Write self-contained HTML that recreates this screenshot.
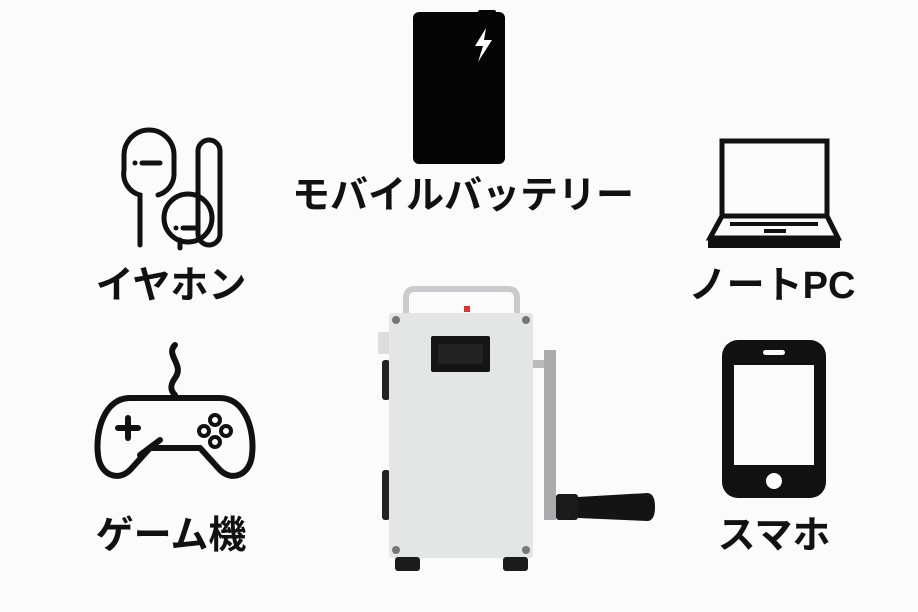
<!DOCTYPE html>
<html><head><meta charset="utf-8"><style>
html,body{margin:0;padding:0;background:#fbfbfb;}
svg{display:block}
text{font-family:"Liberation Sans","Noto Sans CJK JP",sans-serif;font-weight:bold;fill:#111;}
</style></head><body>
<svg width="918" height="612" viewBox="0 0 918 612" xmlns="http://www.w3.org/2000/svg">
<rect width="918" height="612" fill="#fbfbfb"/>
<!-- battery -->
<rect x="413" y="12" width="92" height="152" rx="6" fill="#050505"/>
<rect x="478" y="10" width="18" height="6" rx="2" fill="#050505"/>
<path d="M486 28 L475 46 L483 46 L478 62 L492 40 L484 40 Z" fill="#fff"/>
<text x="463" y="208" font-size="38" text-anchor="middle">モバイルバッテリー</text>
<!-- earphones -->
<g fill="none" stroke="#111" stroke-width="5" stroke-linecap="round">
<path d="M140 245 V195 A22 22 0 0 1 124 170 V155 A25 25 0 0 1 174 155 V175 A22 22 0 0 1 158 195"/>
<rect x="198" y="140" width="22" height="105" rx="11"/>
<circle cx="188" cy="218" r="24"/>
<path d="M180 240 V248"/>
<line x1="142" y1="163" x2="160" y2="163"/>
<line x1="183" y1="228" x2="198" y2="228"/>
</g>
<circle cx="135" cy="163" r="2.5" fill="#111"/><circle cx="176" cy="228" r="2.5" fill="#111"/>
<text x="171" y="298" font-size="38" text-anchor="middle">イヤホン</text>
<!-- laptop -->
<g fill="none" stroke="#111" stroke-width="5">
<rect x="722" y="141" width="105" height="75"/>
<path d="M722 216 L710 238 H838 L827 216"/>
</g>
<rect x="708" y="236" width="132" height="12" fill="#111"/>
<g fill="#111"><rect x="730" y="222" width="88" height="4"/><rect x="764" y="229" width="22" height="4"/></g>
<text x="772" y="298" font-size="38" text-anchor="middle">ノートPC</text>
<!-- game controller -->
<g fill="none" stroke="#111" stroke-width="6" stroke-linecap="round">
<path d="M175 345 C165 355 185 365 175 378 C170 385 170 390 175 395"/>
<path d="M130 398 H220 C245 398 255 430 252 455 C250 475 232 482 220 470 L200 448 H150 L130 470 C118 482 100 475 98 455 C95 430 105 398 130 398 Z"/>
<line x1="118" y1="428" x2="138" y2="428"/><line x1="128" y1="418" x2="128" y2="438"/>
<path d="M140 455 L160 440"/>
</g>
<g fill="none" stroke="#111" stroke-width="4">
<circle cx="215" cy="420" r="5"/><circle cx="215" cy="442" r="5"/><circle cx="204" cy="431" r="5"/><circle cx="226" cy="431" r="5"/>
</g>
<text x="171" y="548" font-size="38" text-anchor="middle">ゲーム機</text>
<!-- phone -->
<rect x="722" y="340" width="104" height="158" rx="16" fill="#111"/>
<rect x="734" y="365" width="80" height="100" fill="#fbfbfb"/>
<rect x="763" y="350" width="22" height="5" rx="2.5" fill="#fbfbfb"/>
<circle cx="774" cy="481" r="8" fill="#fbfbfb"/>
<text x="774" y="548" font-size="38" text-anchor="middle">スマホ</text>
<!-- device -->
<path d="M406 314 V298 Q406 289 415 289 H508 Q517 289 517 298 V314" fill="none" stroke="#c9cccd" stroke-width="6"/>
<rect x="464" y="306" width="6" height="6" fill="#d33"/>
<rect x="378" y="332" width="12" height="22" fill="#ddd"/>
<rect x="382" y="360" width="8" height="40" rx="3" fill="#222"/>
<rect x="382" y="470" width="8" height="50" rx="3" fill="#222"/>
<rect x="389" y="313" width="144" height="245" rx="3" fill="#e3e6e4"/>
<rect x="431" y="336" width="59" height="36" rx="2" fill="#151515"/>
<rect x="438" y="344" width="45" height="20" fill="#222"/>
<g fill="#777"><circle cx="396" cy="320" r="4"/><circle cx="526" cy="320" r="4"/><circle cx="396" cy="550" r="4"/><circle cx="526" cy="550" r="4"/></g>
<rect x="395" y="557" width="25" height="14" rx="3" fill="#1b1b1b"/>
<rect x="503" y="557" width="25" height="14" rx="3" fill="#1b1b1b"/>
<rect x="533" y="360" width="12" height="8" fill="#bbb"/>
<rect x="544" y="350" width="12" height="170" fill="#a9abad"/>
<rect x="556" y="494" width="22" height="26" rx="3" fill="#1a1a1a"/>
<path d="M578 497 L648 493 Q655 494 655 507 Q655 520 648 521 L578 518 Z" fill="#141414"/>
</svg>
</body></html>
